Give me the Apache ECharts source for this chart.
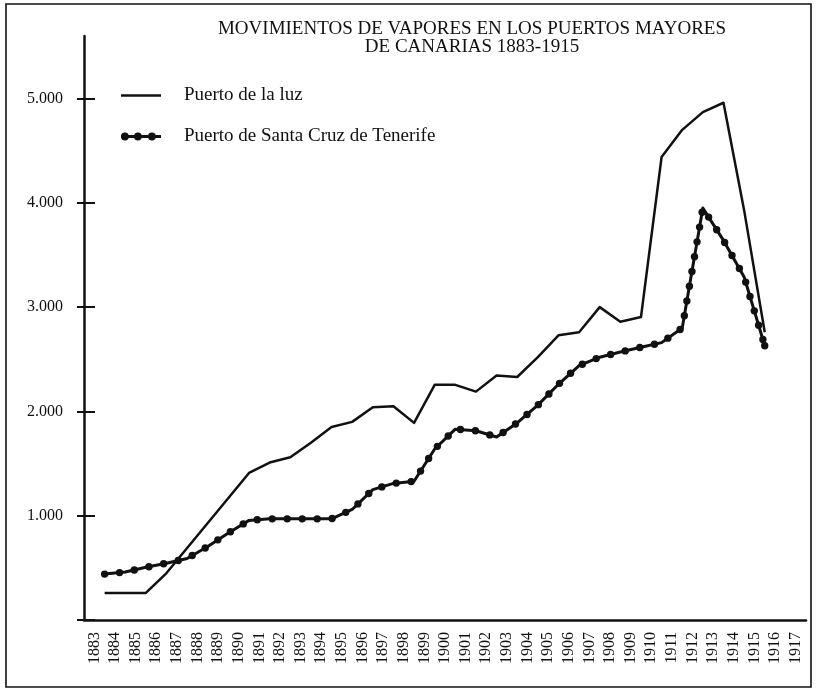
<!DOCTYPE html>
<html>
<head>
<meta charset="utf-8">
<script src="https://cdn.jsdelivr.net/npm/echarts@6/dist/echarts.min.js"></script>
<style>
html,body{margin:0;padding:0;background:#fff;}
#chart{width:817px;height:690px;}
</style>
</head>
<body>
<div id="chart"></div>
<script>
// ---- data ----
const tickLabels = ['1883','1884','1885','1886','1887','1888','1889','1890','1891','1892','1893','1894','1895','1896','1897','1898','1899','1900','1901','1902','1903','1904','1905','1906','1907','1908','1909','1910','1911','1912','1913','1914','1915','1916','1917'];
const years = ['1883','1884','1885','1886','1887','1888','1889','1890','1891','1892','1893','1894','1895','1896','1897','1898','1899','1900','1901','1902','1903','1904','1905','1906','1907','1908','1909','1910','1911','1912','1913','1914','1915'];
const luzValues = [260,260,260,450,690,930,1170,1410,1510,1560,1700,1850,1900,2040,2050,1890,2255,2255,2190,2345,2330,2520,2730,2760,3000,2860,2905,4440,4700,4870,4960,3930,2760];
const santaCruzValues = [440,460,505,545,590,705,835,955,970,970,970,970,1060,1250,1310,1330,1640,1830,1815,1755,1890,2060,2260,2440,2520,2570,2615,2660,2800,3950,3640,3290,2630];
const yTicks = [0,1000,2000,3000,4000,5000];
const yLabels = [1000,2000,3000,4000,5000];
const seriesNames = ['Puerto de la luz','Puerto de Santa Cruz de Tenerife'];
const titleText = 'MOVIMIENTOS DE VAPORES EN LOS PUERTOS MAYORES\nDE CANARIAS 1883-1915';

// boundaries between label bands (data years are plotted on them)
const boundaryCats = ['1882'].concat(tickLabels);
const luzData = years.map((y, i) => [boundaryCats.indexOf(y), luzValues[i]]);
const scData = years.map((y, i) => [boundaryCats.indexOf(y), santaCruzValues[i]]);

const FONT = '"Liberation Serif", "Times New Roman", serif';
const INK = '#111';

function fmt(v) { return String(v).replace(/\B(?=(\d{3})+(?!\d))/g, '.'); }

const chart = echarts.init(document.getElementById('chart'), null, {renderer: 'canvas'});

const option = {
  backgroundColor: '#fff',
  animation: false,
  title: {
    text: titleText,
    left: 467,
    top: 15,
    textAlign: 'center',
    textStyle: {fontFamily: FONT, fontSize: 19, fontWeight: 'normal', color: INK, lineHeight: 18, align: 'center'}
  },
  legend: {
    orient: 'vertical',
    left: 121,
    top: 86,
    padding: 0,
    itemWidth: 40,
    itemHeight: 8,
    itemGap: 22,
    selectedMode: false,
    textStyle: {fontFamily: FONT, fontSize: 19, color: INK, lineHeight: 19, padding: [0, 0, 0, 18]},
    data: [
      {name: seriesNames[0], icon: 'path://M0,2.8L40,2.8L40,5.2L0,5.2Z'},
      {name: seriesNames[1], icon: 'path://M0,2.5L40,2.5L40,5.5L0,5.5Z M0,4a3.9,3.9 0 1,1 7.8,0a3.9,3.9 0 1,1 -7.8,0Z M13,4a3.9,3.9 0 1,1 7.8,0a3.9,3.9 0 1,1 -7.8,0Z M27,4a3.9,3.9 0 1,1 7.8,0a3.9,3.9 0 1,1 -7.8,0Z'}
    ]
  },
  grid: {left: 84, right: 11, top: 36, bottom: 70, containLabel: false},
  xAxis: [
    {
      type: 'category',
      data: tickLabels,
      boundaryGap: true,
      axisLine: {lineStyle: {color: INK, width: 2.5}},
      axisTick: {show: false},
      splitLine: {show: false},
      axisLabel: {rotate: 90, margin: 12, interval: 0, fontFamily: FONT, fontSize: 16, color: INK}
    },
    {
      type: 'category',
      data: boundaryCats,
      boundaryGap: false,
      show: false
    }
  ],
  yAxis: [
    {
      type: 'value',
      min: 0,
      max: 5600,
      interval: 1000,
      axisLine: {show: true, lineStyle: {color: INK, width: 2.5}},
      axisTick: {show: true, length: 7, inside: false, lineStyle: {color: INK, width: 2}, customValues: yTicks},
      axisLabel: {margin: 21, fontFamily: FONT, fontSize: 16, color: INK, formatter: fmt, customValues: yLabels},
      splitLine: {show: false}
    },
    {
      type: 'value',
      min: 0,
      max: 5600,
      interval: 1000,
      position: 'left',
      axisLine: {show: false},
      axisTick: {show: true, length: 11, inside: true, lineStyle: {color: INK, width: 2}, customValues: yTicks},
      axisLabel: {show: false},
      splitLine: {show: false}
    }
  ],
  series: [
    {
      name: seriesNames[0],
      type: 'line',
      xAxisIndex: 1,
      yAxisIndex: 0,
      data: luzData,
      symbol: 'none',
      color: INK,
      lineStyle: {color: INK, width: 2.5, join: 'round'}
    },
    {
      name: seriesNames[1],
      type: 'line',
      xAxisIndex: 1,
      yAxisIndex: 0,
      data: scData,
      symbol: 'none',
      color: INK,
      lineStyle: {color: INK, width: 3, join: 'round'}
    },
    {
      name: 'dots',
      type: 'custom',
      xAxisIndex: 1,
      yAxisIndex: 0,
      data: scData,
      z: 5,
      silent: true,
      renderItem: function (params, api) {
        if (params.dataIndex !== 0) return null;
        const pts = scData.map(d => api.coord([d[0], d[1]]));
        const step = 15;
        const children = [];
        let carry = 0;
        for (let s = 0; s < pts.length - 1; s++) {
          const x0 = pts[s][0], y0 = pts[s][1], x1 = pts[s + 1][0], y1 = pts[s + 1][1];
          const len = Math.hypot(x1 - x0, y1 - y0);
          let d = carry;
          while (d <= len) {
            const t = len ? d / len : 0;
            children.push({type: 'circle', shape: {cx: x0 + t * (x1 - x0), cy: y0 + t * (y1 - y0), r: 3.7}, style: {fill: INK}});
            d += step;
          }
          carry = d - len;
        }
        const last = pts[pts.length - 1];
        if (carry > 5) children.push({type: 'circle', shape: {cx: last[0], cy: last[1], r: 3.7}, style: {fill: INK}});
        return {type: 'group', children: children};
      }
    }
  ],
  graphic: [
    {type: 'rect', shape: {x: 6, y: 4, width: 805, height: 683}, style: {fill: 'none', stroke: INK, lineWidth: 1.6}, silent: true}
  ]
};
chart.setOption(option);
</script>
</body>
</html>
